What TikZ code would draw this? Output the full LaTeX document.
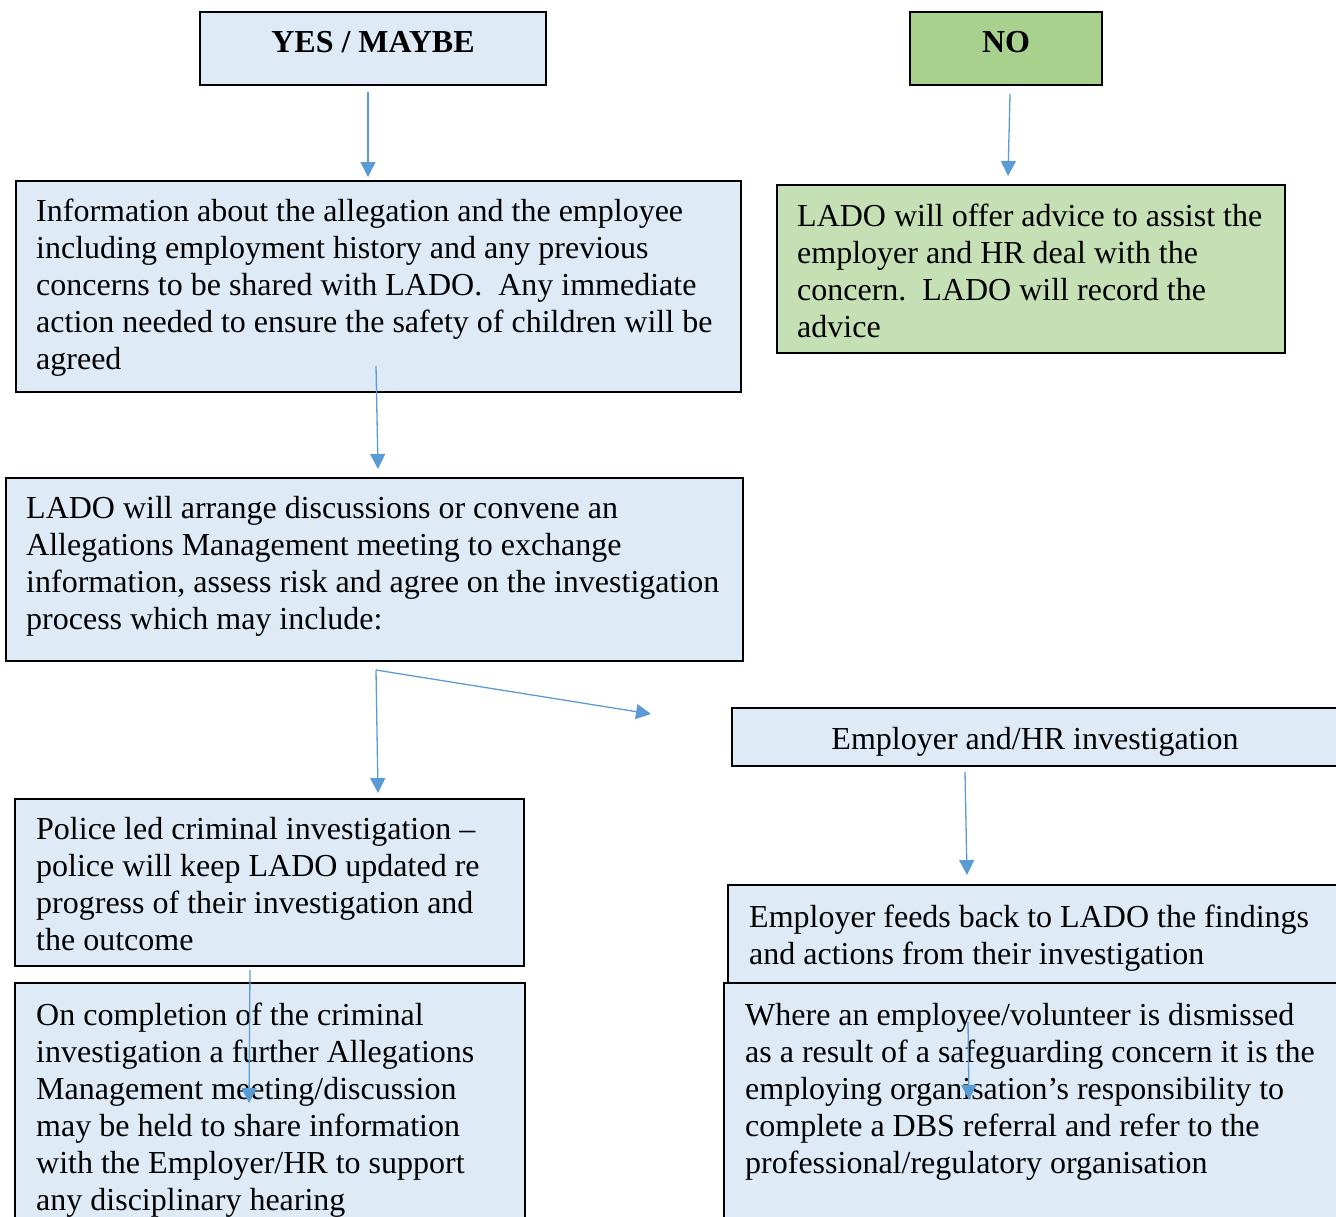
\documentclass[tikz,border=0pt]{standalone}
\usepackage{fontspec}
\setmainfont{Liberation Serif}
\usetikzlibrary{arrows.meta}
\definecolor{boxblue}{HTML}{DEEAF6}
\definecolor{nogreen}{HTML}{A9D18E}
\definecolor{advgreen}{HTML}{C5E0B4}
\definecolor{arrowblue}{HTML}{5B9BD5}
\tikzset{
  box/.style={draw=black, line width=1.6pt, rectangle, inner sep=0pt, outer sep=0pt, anchor=north west},
  bluebox/.style={box, fill=boxblue},
  txt/.style={inner sep=0pt, anchor=north west, align=flush left, text width=760pt, font=\fontsize{32}{37}\selectfont},
  head/.style={inner sep=0pt, anchor=base, font=\bfseries\fontsize{32}{37}\selectfont},
  flow/.style={draw=arrowblue, line width=1.3pt, -{Triangle[width=15pt,length=15pt]}}
}
\begin{document}
\begin{tikzpicture}[x=1pt, y=-1pt]
\useasboundingbox (0,0) rectangle (1336,1216);
\clip (0,0) rectangle (1336,1216);

% boxes
\node[bluebox, minimum width=346pt, minimum height=73pt] (yes) at (200,12) {};
\node[box, fill=nogreen, minimum width=192pt, minimum height=73pt] (no) at (910,12) {};
\node[bluebox, minimum width=725pt, minimum height=211pt] (info) at (16,181) {};
\node[box, fill=advgreen, minimum width=508pt, minimum height=168pt] (advice) at (777,185) {};
\node[bluebox, minimum width=737pt, minimum height=183pt] (arrange) at (6,478) {};
\node[bluebox, minimum width=630pt, minimum height=58pt] (emp) at (732,708) {};
\node[bluebox, minimum width=509pt, minimum height=167pt] (police) at (15,799) {};
\node[bluebox, minimum width=630pt, minimum height=100pt] (feeds) at (728,885) {};
\node[bluebox, minimum width=510pt, minimum height=260pt] (compl) at (15,983) {};
\node[bluebox, minimum width=630pt, minimum height=260pt] (where) at (724,983) {};

% texts
\node[head] (tyes) at (373,52) {YES / MAYBE};
\node[head] (tno) at (1006,52) {NO};
\node[txt] (tinfo) at (36,195.1) {\strut Information about the allegation and the employee\\
including employment history and any previous\\
concerns to be shared with LADO.\hspace{16pt}Any immediate\\
action needed to ensure the safety of children will be\\
agreed};
\node[txt] (tadvice) at (797,200.1) {\strut LADO will offer advice to assist the\\
employer and HR deal with the\\
concern.\hspace{16pt}LADO will record the\\
advice};
\node[txt] (tarrange) at (26,492.1) {\strut LADO will arrange discussions or convene an\\
Allegations Management meeting to exchange\\
information, assess risk and agree on the investigation\\
process which may include:};
\node[inner sep=0pt, anchor=base, font=\fontsize{32}{37}\selectfont] (temp) at (1035,749) {Employer and/HR investigation};
\node[txt] (tpolice) at (36,813.1) {\strut Police led criminal investigation --\\
police will keep LADO updated re\\
progress of their investigation and\\
the outcome};
\node[txt] (tfeeds) at (749,901.1) {\strut Employer feeds back to LADO the findings\\
and actions from their investigation};
\node[txt] (tcompl) at (36,999.1) {\strut On completion of the criminal\\
investigation a further Allegations\\
Management meeting/discussion\\
may be held to share information\\
with the Employer/HR to support\\
any disciplinary hearing};
\node[txt] (twhere) at (745,999.1) {\strut Where an employee/volunteer is dismissed\\
as a result of a safeguarding concern it is the\\
employing organisation’s responsibility to\\
complete a DBS referral and refer to the\\
professional/regulatory organisation};

% connectors
\coordinate (a1s) at (368,92);   \coordinate (a1e) at (368,177);
\coordinate (a2s) at (1010,94);  \coordinate (a2e) at (1008,176);
\coordinate (a3s) at (376,366);  \coordinate (a3e) at (378,469);
\coordinate (fork) at (376,670);
\coordinate (a4e) at (378,793);
\coordinate (a5e) at (651,714);
\coordinate (a6s) at (965,772);  \coordinate (a6e) at (967,875);
\coordinate (a7s) at (250,970);  \coordinate (a7e) at (249,1103);
\coordinate (a8s) at (968,1022); \coordinate (a8e) at (969,1100);

\draw[flow] (a1s) -- (a1e);
\draw[flow] (a2s) -- (a2e);
\draw[flow] (a3s) -- (a3e);
\draw[flow] (fork) -- (a4e);
\draw[flow] (fork) -- (a5e);
\draw[flow] (a6s) -- (a6e);
\draw[flow] (a7s) -- (a7e);
\draw[flow] (a8s) -- (a8e);
\end{tikzpicture}
\end{document}
